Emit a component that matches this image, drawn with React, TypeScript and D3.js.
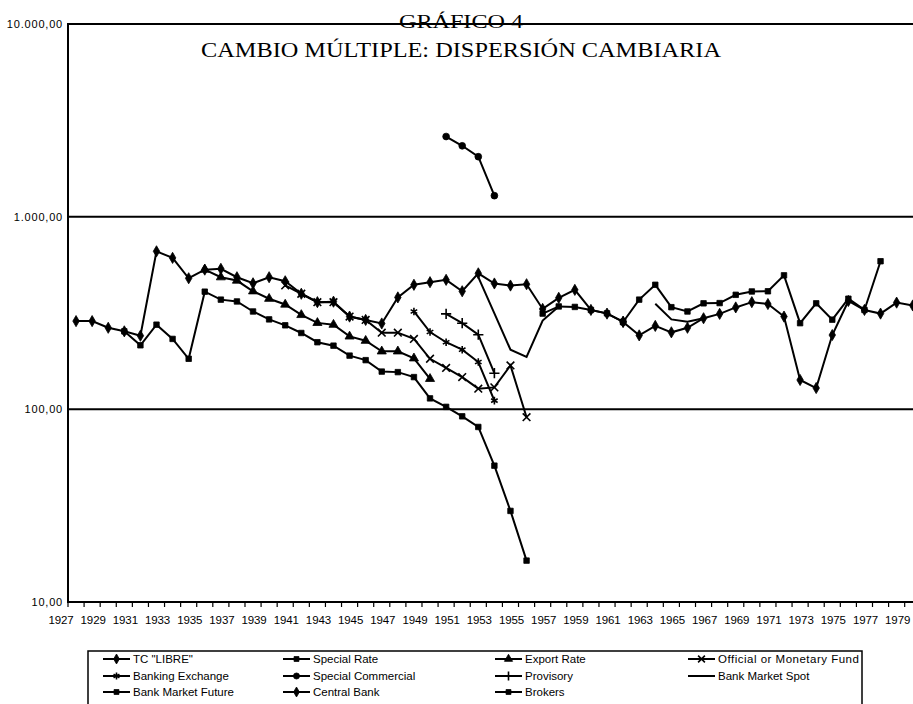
import React from "react";
import * as d3 from "d3";

// years on the category axis
const firstYear = 1927;
const lastYear = 1979;
const years = d3.range(firstYear, lastYear + 1);
const labelYears = years.filter((y) => (y - firstYear) % 2 === 0);
const yTicks = [10, 100, 1000, 10000];

// each series: first year + values
const tcLibre = [287, 287, 265, 254, 241, 661, 611, 479, 531, 536, 485, 451, 485, 462, 398, 360, 362, 303, 291, 279, 381, 443, 457, 470, 410, 508, 450, 439, 446, 332, 379, 417, 328, 314, 285];
const specialRate = [254, 215, 275, 232, 183, 408, 371, 363, 322, 293, 273, 249, 223, 214, 190, 180, 157, 156, 147, 114, 103, 92, 81, 51, 29.7, 16.4];
const exportRate = [531, 485, 466, 410, 375, 350, 309, 281, 275, 239, 227, 200, 200, 184, 144];
const officialFund = [440, 398, 360, 360, 303, 291, 250, 250, 232, 183, 164, 147, 128, 130, 169, 91];
const bankingExchange = [322, 252, 223, 204, 176, 111];
const specialCommercial = [2606, 2333, 2047, 1285];
const provisory = [313, 280, 244, 154];
const bankSpot = [485, 315, 204, 187, 289, 342, null, null, null, null, null, 353, 293, 285, 297];
const bankFuture = [314, 342, 340, 328, 315, 284];
const centralBank = [284, 242, 271, 251, 265, 297, 313, 338, 360, 352, 303, 142, 129, 243, 365, 328, 314, 358, 346];
const brokers = [284, 371, 443, 339, 322, 355, 356, 393, 409, 410, 496, 280, 355, 292, 375, 328, 587];

type Marker = "diamond" | "square" | "triangle" | "x" | "asterisk" | "circle" | "plus" | "none";
type Series = { name: string; start: number; values: (number | null)[]; marker: Marker };

const series: Series[] = [
  { name: 'TC "LIBRE"', start: 1927, values: tcLibre, marker: "diamond" },
  { name: "Special Rate", start: 1930, values: specialRate, marker: "square" },
  { name: "Export Rate", start: 1935, values: exportRate, marker: "triangle" },
  { name: "Official or Monetary Fund", start: 1940, values: officialFund, marker: "x" },
  { name: "Banking Exchange", start: 1948, values: bankingExchange, marker: "asterisk" },
  { name: "Special Commercial", start: 1950, values: specialCommercial, marker: "circle" },
  { name: "Provisory", start: 1950, values: provisory, marker: "plus" },
  { name: "Bank Market Spot", start: 1952, values: bankSpot, marker: "none" },
  { name: "Bank Market Future", start: 1956, values: bankFuture, marker: "square" },
  { name: "Central Bank", start: 1961, values: centralBank, marker: "diamond" },
  { name: "Brokers", start: 1961, values: brokers, marker: "square" },
];

const W = 913;
const H = 704;
const left = 68;
const top = 24;
const bottom = 602;
const step = 16.09;

const x = d3.scaleBand<number>().domain(years).range([left, left + step * years.length]).padding(0);
const cx = (yr: number) => (x(yr) as number) + x.bandwidth() / 2;
const y = d3.scaleLog().domain([10, 10000]).range([bottom, top]);

const fmt = (v: number) => d3.format(",.2f")(v).replace(/,/g, "#").replace(".", ",").replace(/#/g, ".");

const symbolPath = (m: Marker, k = 1) => {
  switch (m) {
    case "diamond":
      return d3.symbol(d3.symbolDiamond, 36 * k)();
    case "square":
      return d3.symbol(d3.symbolSquare, 30 * k)();
    case "triangle":
      return d3.symbol(d3.symbolTriangle, 36 * k)();
    case "circle":
      return d3.symbol(d3.symbolCircle, 36 * k)();
    case "x":
      return d3.symbol(d3.symbolX, 40 * k)();
    case "asterisk":
      return d3.symbol(d3.symbolAsterisk, 40 * k)();
    case "plus":
      return d3.symbol(d3.symbolPlus, 36 * k)();
    default:
      return null;
  }
};
const strokeMarker = (m: Marker) => m === "x" || m === "asterisk" || m === "plus";

const MarkerMark = ({ m, tx, ty, k = 1 }: { m: Marker; tx: number; ty: number; k?: number }) => {
  const d = symbolPath(m, k);
  if (!d) return null;
  const s = strokeMarker(m);
  return (
    <path
      d={d}
      transform={`translate(${tx},${ty})`}
      fill={s ? "none" : "#000"}
      stroke="#000"
      strokeWidth={s ? 1.6 : 0.8}
    />
  );
};

const legendCols = [103, 283, 495, 688];
const legendRows = [659, 676, 692];

export default function App() {
  const line = d3
    .line<{ yr: number; v: number | null }>()
    .defined((d) => d.v != null)
    .x((d) => cx(d.yr))
    .y((d) => y(d.v as number));

  return (
    <svg
      width={W}
      height={H}
      style={{ position: "absolute", left: 0, top: 0, background: "#fff" }}
      fontFamily="'Liberation Sans', Arial, sans-serif"
    >
      <rect width={W} height={H} fill="#fff" />

      {/* titles */}
      <text x={461} y={28} textAnchor="middle" fontFamily="'Liberation Serif', 'Times New Roman', serif" fontSize={19} textLength={124} lengthAdjust="spacingAndGlyphs">
        GRÁFICO 4
      </text>

      {/* grid and frame */}
      {yTicks.slice(1).map((t) => (
        <line key={t} x1={left} x2={W} y1={y(t)} y2={y(t)} stroke="#000" strokeWidth={2} />
      ))}
      <line x1={left} x2={left} y1={top - 1} y2={bottom + 1} stroke="#000" strokeWidth={2} />
      <line x1={left} x2={W} y1={bottom} y2={bottom} stroke="#000" strokeWidth={2} />

      <text x={461} y={57} textAnchor="middle" fontFamily="'Liberation Serif', 'Times New Roman', serif" fontSize={21} textLength={520} lengthAdjust="spacingAndGlyphs">
        CAMBIO MÚLTIPLE: DISPERSIÓN CAMBIARIA
      </text>

      {/* y labels */}
      {yTicks.map((t) => (
        <text key={t} x={63} y={y(t) + 4} textAnchor="end" fontSize={11} letterSpacing={0.8}>
          {fmt(t)}
        </text>
      ))}

      {/* x ticks and labels */}
      {years.map((yr) => (
        <line key={yr} x1={x(yr) as number} x2={x(yr) as number} y1={bottom} y2={bottom + 5} stroke="#000" strokeWidth={1.2} />
      ))}
      {labelYears.map((yr) => (
        <text key={yr} x={(x(yr) as number) - 7} y={624} textAnchor="middle" fontSize={11.5} letterSpacing={-0.1}>
          {yr}
        </text>
      ))}

      {/* series */}
      {series.map((s) => {
        const pts = s.values.map((v, i) => ({ yr: s.start + i, v }));
        return (
          <g key={s.name}>
            <path d={line(pts) || ""} fill="none" stroke="#000" strokeWidth={2} />
            {pts
              .filter((p) => p.v != null)
              .map((p) => (
                <MarkerMark key={p.yr} m={s.marker} tx={cx(p.yr)} ty={y(p.v as number)} />
              ))}
          </g>
        );
      })}

      {/* legend */}
      <rect x={88} y={651} width={774} height={70} fill="#fff" stroke="#000" strokeWidth={1.5} />
      {series.map((s, i) => {
        const col = i % 4;
        const row = Math.floor(i / 4);
        const lx = legendCols[col];
        const ly = legendRows[row];
        return (
          <g key={s.name}>
            <line x1={lx} x2={lx + 27} y1={ly} y2={ly} stroke="#000" strokeWidth={2} />
            <MarkerMark m={s.marker} tx={lx + 13.5} ty={ly} k={0.8} />
            <text x={lx + 30} y={ly + 4} fontSize={11.5} letterSpacing={col === 3 && row === 0 ? 0.5 : 0}>
              {s.name}
            </text>
          </g>
        );
      })}
    </svg>
  );
}
